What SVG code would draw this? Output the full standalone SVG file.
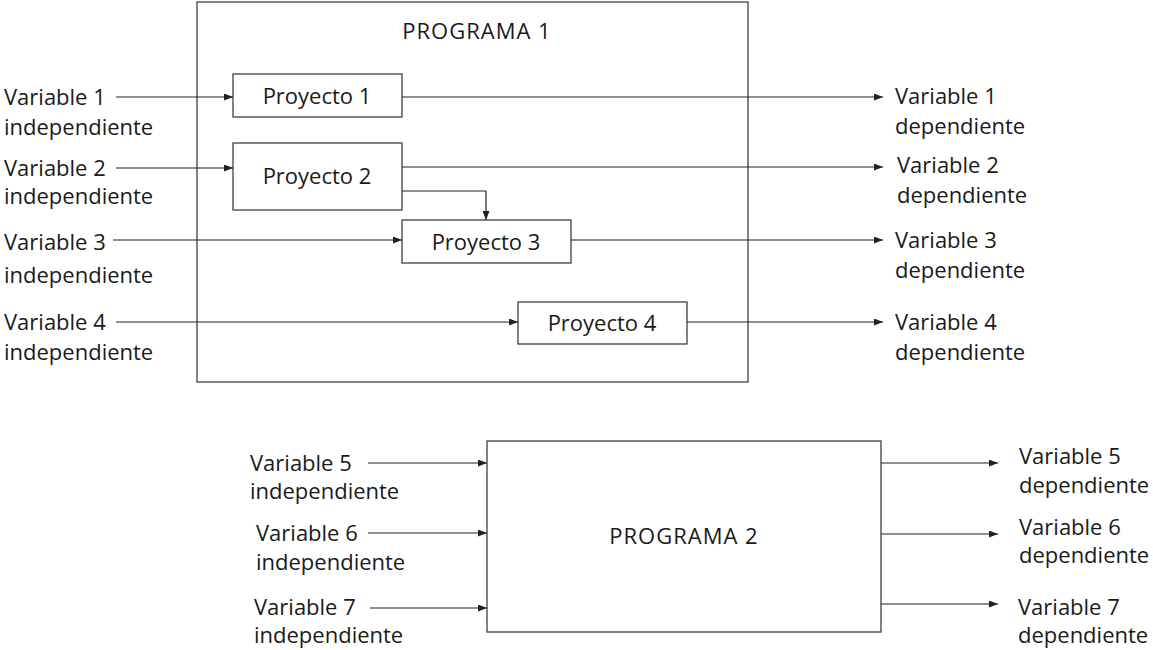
<svg xmlns="http://www.w3.org/2000/svg" width="1153" height="650" viewBox="0 0 1153 650">
  <style>
    .box { fill: #ffffff; stroke: #404040; stroke-width: 1.3; }
    .wire { fill: none; stroke: #222222; stroke-width: 1.2; marker-end: url(#head); }
    text { font-family: "Open Sans", "Liberation Sans", sans-serif; font-size: 22px; fill: #1a1a1a; }
    .mid { text-anchor: middle; }
    .title { font-size: 22px; letter-spacing: 1px; }
  </style>
  <defs>
    <marker id="head" markerWidth="9" markerHeight="7" refX="9" refY="3.5" orient="auto" markerUnits="userSpaceOnUse">
      <path d="M0,0 L9,3.5 L0,7 z" fill="#222222"/>
    </marker>
  </defs>
  <rect width="1153" height="650" fill="#ffffff"/>

  <g id="programa1">
    <rect class="box" x="197" y="2" width="551" height="380"/>
    <text class="mid title" x="477" y="39">PROGRAMA 1</text>
  </g>
  <g id="proyecto1">
    <rect class="box" x="233" y="74" width="169" height="43"/>
    <text class="mid" x="317" y="104">Proyecto 1</text>
  </g>
  <g id="proyecto2">
    <rect class="box" x="233" y="143" width="169" height="67"/>
    <text class="mid" x="317" y="184">Proyecto 2</text>
  </g>
  <g id="proyecto3">
    <rect class="box" x="402" y="220" width="169" height="43"/>
    <text class="mid" x="486" y="250">Proyecto 3</text>
  </g>
  <g id="proyecto4">
    <rect class="box" x="518" y="302" width="169" height="42"/>
    <text class="mid" x="602" y="331">Proyecto 4</text>
  </g>
  <g id="programa2">
    <rect class="box" x="487" y="441" width="394" height="191"/>
    <text class="mid title" x="684" y="544">PROGRAMA 2</text>
  </g>

  <g id="in-labels">
    <text x="4" y="105">Variable 1</text><text x="4" y="135">independiente</text>
    <text x="4" y="176">Variable 2</text><text x="4" y="204">independiente</text>
    <text x="4" y="250">Variable 3</text><text x="4" y="283">independiente</text>
    <text x="4" y="330">Variable 4</text><text x="4" y="360">independiente</text>
    <text x="250" y="471">Variable 5</text><text x="250" y="499">independiente</text>
    <text x="256" y="541">Variable 6</text><text x="256" y="570">independiente</text>
    <text x="254" y="615">Variable 7</text><text x="254" y="643">independiente</text>
  </g>
  <g id="out-labels">
    <text x="895" y="104">Variable 1</text><text x="895" y="134">dependiente</text>
    <text x="897" y="173">Variable 2</text><text x="897" y="203">dependiente</text>
    <text x="895" y="248">Variable 3</text><text x="895" y="278">dependiente</text>
    <text x="895" y="330">Variable 4</text><text x="895" y="360">dependiente</text>
    <text x="1019" y="464">Variable 5</text><text x="1019" y="493">dependiente</text>
    <text x="1019" y="535">Variable 6</text><text x="1019" y="563">dependiente</text>
    <text x="1018" y="615">Variable 7</text><text x="1018" y="643">dependiente</text>
  </g>

  <g id="connectors">
    <path class="wire" d="M116,97 H233"/>
    <path class="wire" d="M116,168 H233"/>
    <path class="wire" d="M113,240 H402"/>
    <path class="wire" d="M116,322 H518"/>
    <path class="wire" d="M402,97 H883"/>
    <path class="wire" d="M402,167 H883"/>
    <path class="wire" d="M402,191 H486 V220"/>
    <path class="wire" d="M571,240 H883"/>
    <path class="wire" d="M687,322 H883"/>
    <path class="wire" d="M368,463 H487"/>
    <path class="wire" d="M368,533 H487"/>
    <path class="wire" d="M370,608 H487"/>
    <path class="wire" d="M881,463 H998"/>
    <path class="wire" d="M881,534 H998"/>
    <path class="wire" d="M881,604 H998"/>
  </g>
</svg>
